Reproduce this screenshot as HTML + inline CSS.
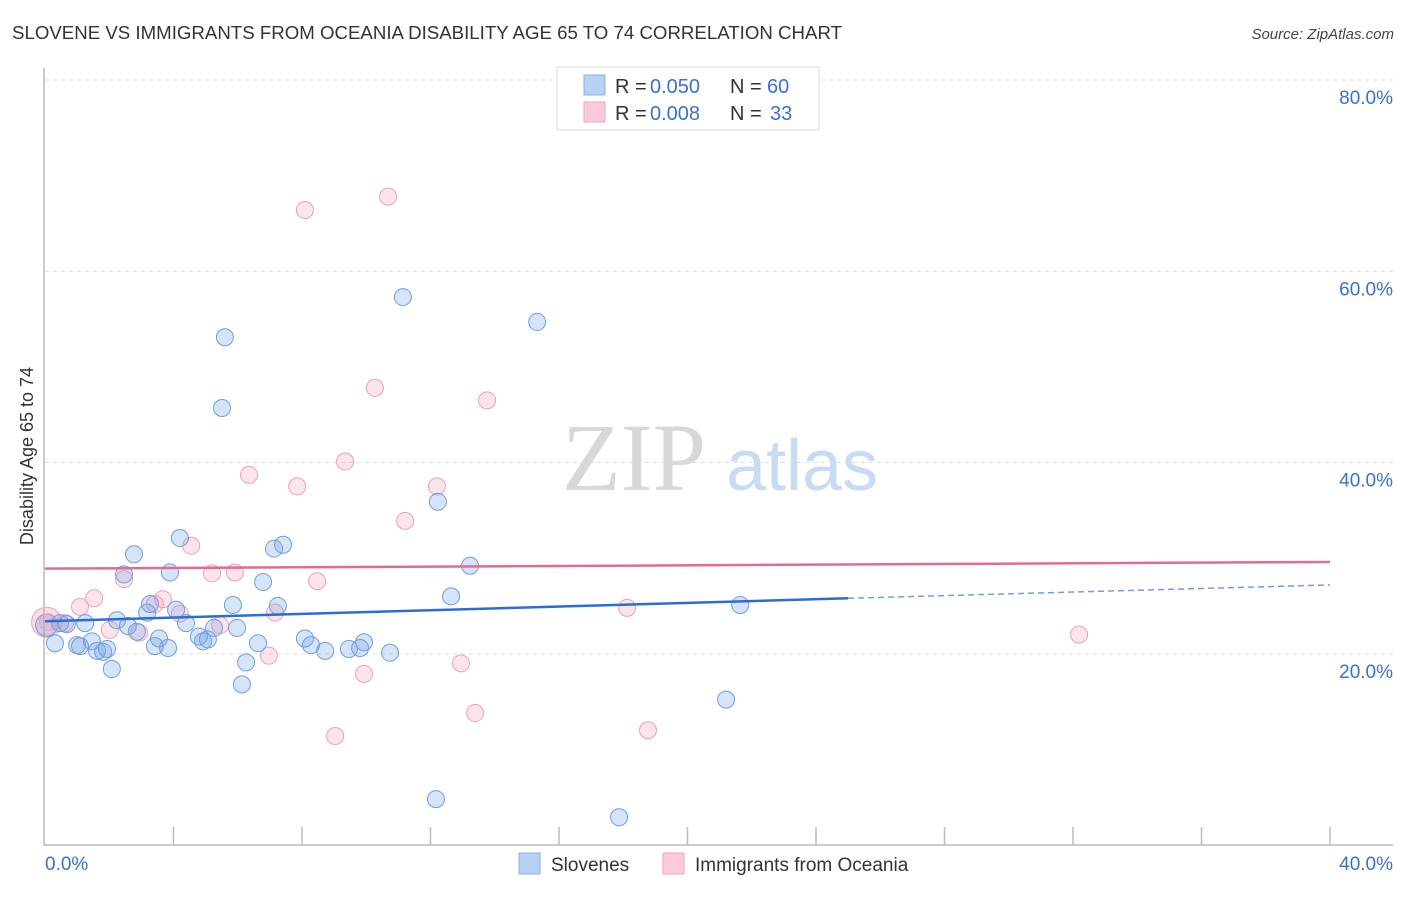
<!DOCTYPE html>
<html><head><meta charset="utf-8"><style>
body{margin:0;background:#fff;font-family:"Liberation Sans",sans-serif;}
</style></head><body>
<svg id="chart" width="1406" height="892" xmlns="http://www.w3.org/2000/svg" style="font-family:'Liberation Sans',sans-serif">
<text x="12" y="39" font-size="18" fill="#333" textLength="830" lengthAdjust="spacingAndGlyphs">SLOVENE VS IMMIGRANTS FROM OCEANIA DISABILITY AGE 65 TO 74 CORRELATION CHART</text>
<text x="1394" y="39" font-size="15" fill="#444" text-anchor="end" font-style="italic">Source: ZipAtlas.com</text>
<g>
<text x="634" y="490" font-size="96" fill="#d8d8d8" text-anchor="middle" font-family="'Liberation Serif',serif">ZIP</text>
<text x="802" y="490" font-size="72" fill="#c9dbf2" text-anchor="middle">atlas</text>
</g>
<g id="grid"></g>
<g id="axes"></g>
<g id="marks"></g>
<text transform="translate(33,456) rotate(-90)" font-size="18" fill="#333" text-anchor="middle">Disability Age 65 to 74</text>
<g>
<rect x="557" y="67" width="262" height="63" fill="#fff" stroke="#ddd"/>
<rect x="584" y="75" width="21" height="20" fill="#b7d1f3" stroke="#8ab2e8"/>
<text x="615" y="93" font-size="20" fill="#333">R =</text>
<text x="650" y="93" font-size="20" fill="#3a6fd1">0.050</text>
<text x="730" y="93" font-size="20" fill="#333">N =</text>
<text x="767" y="93" font-size="20" fill="#3a6fd1">60</text>
<rect x="584" y="102" width="21" height="20" fill="#fbcbd9" stroke="#f0a6bd"/>
<text x="615" y="120" font-size="20" fill="#333">R =</text>
<text x="650" y="120" font-size="20" fill="#3a6fd1">0.008</text>
<text x="730" y="120" font-size="20" fill="#333">N =</text>
<text x="770" y="120" font-size="20" fill="#3a6fd1">33</text>
</g>
<g>
<rect x="519" y="853" width="21" height="21" fill="#b7d1f3" stroke="#8ab2e8"/>
<text x="551" y="871" font-size="19" fill="#333">Slovenes</text>
<rect x="663" y="853" width="21" height="21" fill="#fbcbd9" stroke="#f0a6bd"/>
<text x="695" y="871" font-size="19" fill="#333">Immigrants from Oceania</text>
</g>
</svg>
<script>
const yTicks=[20,40,60,80];
const xTickLabels=["0.0%","40.0%"];
const blueX=[0.31,0.47,0.68,1.0,1.25,1.09,1.46,1.62,1.81,1.93,2.08,2.24,2.46,2.77,2.58,2.86,3.18,3.27,3.42,3.55,3.83,3.89,4.08,4.20,4.39,4.79,4.92,5.07,5.26,5.51,5.60,5.85,5.98,6.13,6.26,6.63,6.79,7.13,7.25,7.41,8.09,8.28,8.72,9.46,9.81,9.93,10.74,11.14,12.17,12.23,12.64,13.23,15.32,17.87,21.2,21.64];
const blueY=[21.1,23.2,23.1,20.9,23.2,20.8,21.3,20.3,20.2,20.5,18.4,23.5,28.3,30.4,22.9,22.3,24.3,25.2,20.8,21.6,20.6,28.5,24.6,32.1,23.2,21.8,21.3,21.5,22.7,45.7,53.1,25.1,22.7,16.8,19.1,21.1,27.5,31.0,25.0,31.4,21.6,20.9,20.3,20.5,20.6,21.2,20.1,57.3,4.8,35.9,26.0,29.2,54.7,2.9,15.2,25.1];
const pinkX=[0.09,0.62,1.09,1.53,2.02,2.46,2.93,3.42,3.67,4.20,4.55,5.20,5.45,5.91,6.35,6.97,7.16,7.85,8.09,8.47,9.03,9.34,9.93,10.27,10.68,11.21,12.20,12.95,13.39,13.76,18.12,18.77,32.19];
const pinkY=[23.3,23.2,24.9,25.8,22.5,27.8,22.2,25.2,25.7,24.2,31.3,28.4,23.0,28.5,38.7,19.8,24.3,37.5,66.4,27.6,11.4,40.1,17.9,47.8,67.8,33.9,37.5,19.0,13.8,46.5,24.8,12.0,22.0];
const blueTrend=[23.4,25.8,27.2]; // at x=0, 25, 40
const pinkTrend=[28.9,29.6];      // at x=0, 40
const NS="http://www.w3.org/2000/svg";
const X=v=>45+v/40*1285, Y=v=>845-v/80*765;
function mk(tag,attrs,parent){const e=document.createElementNS(NS,tag);for(const k in attrs)e.setAttribute(k,attrs[k]);parent.appendChild(e);return e;}
const grid=document.getElementById('grid'),axes=document.getElementById('axes'),marks=document.getElementById('marks');
yTicks.forEach(t=>{
 const l=mk('line',{x1:45,x2:1393,y1:Y(t),y2:Y(t),stroke:'#ddd','stroke-dasharray':'4,4'},grid);
 
 
 const tx=mk('text',{x:1393,y:Y(t)+24,'font-size':19,fill:'#3a6fd1','text-anchor':'end'},grid);
 tx.textContent=t.toFixed(1)+'%';
 
 
});
const ax=mk('path',{d:'M44,68 V845 H1393',fill:'none',stroke:'#bbb','stroke-width':1.5},axes);


for(let i=1;i<=10;i++){
 const t=mk('line',{x1:X(i*4),x2:X(i*4),y1:827,y2:845,stroke:'#bbb','stroke-width':1.5},axes);
 
 
}
[[0,'start',45],[40,'end',1393]].forEach((p,i)=>{
 const tx=mk('text',{x:p[2],y:870,'font-size':19,fill:'#3a6fd1','text-anchor':p[1]},axes);
 tx.textContent=xTickLabels[i];
 
 
});
function dot(x,y,r,fill,stroke,name){
 const c=mk('circle',{cx:X(x),cy:Y(y),r:r,fill:fill,stroke:stroke,'stroke-width':1},marks);
 
 
}
dot(0.05,23.3,15,'rgba(240,150,180,0.3)','#eea0b9','point-oceania-large');
dot(0.05,23.0,11,'rgba(110,155,225,0.3)','#6e9ee0','point-slovene-large');
pinkX.forEach((x,i)=>dot(x,pinkY[i],8.5,'rgba(245,165,190,0.3)','#eea0b9','point-oceania'));
blueX.forEach((x,i)=>dot(x,blueY[i],8.5,'rgba(120,165,230,0.3)','#6e9ee0','point-slovene'));
const bl=mk('line',{x1:X(0),y1:Y(blueTrend[0]),x2:X(25),y2:Y(blueTrend[1]),stroke:'#2a6dd6','stroke-width':2.5},marks);


const bd=mk('line',{x1:X(25),y1:Y(blueTrend[1]),x2:X(40),y2:Y(blueTrend[2]),stroke:'#6e9ee0','stroke-width':1.5,'stroke-dasharray':'6,4'},marks);


const pl=mk('line',{x1:X(0),y1:Y(pinkTrend[0]),x2:X(40),y2:Y(pinkTrend[1]),stroke:'#e56a93','stroke-width':2.5},marks);


</script>
</body></html>
